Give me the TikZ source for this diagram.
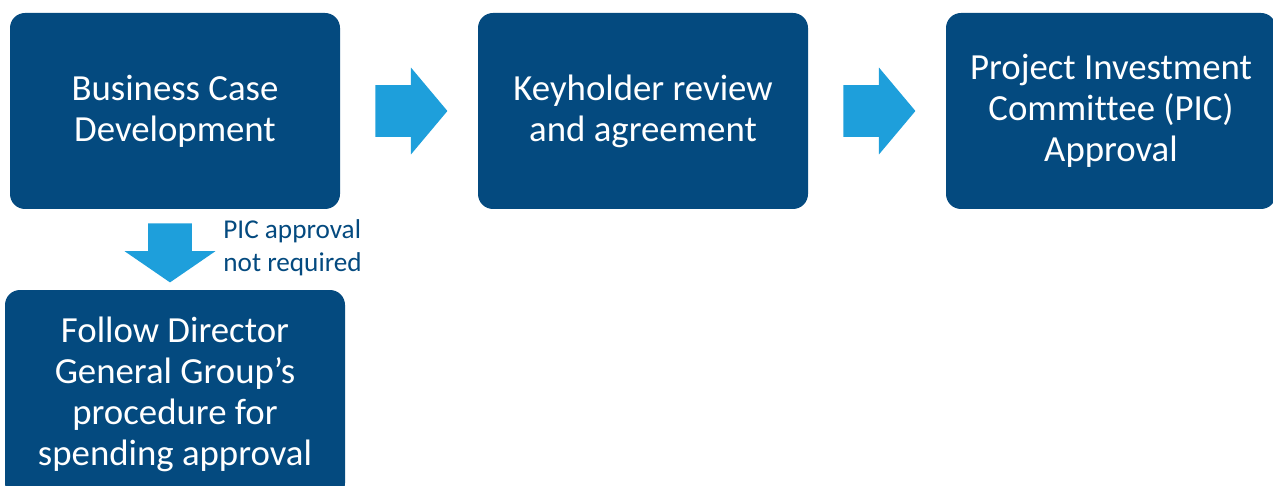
\documentclass[tikz,border=0pt]{standalone}
\usepackage{fontspec}
\setmainfont{Carlito}[Ligatures=NoCommon]
\usetikzlibrary{shapes.arrows}
\usetikzlibrary{positioning}
\definecolor{stageblue}{RGB}{4,74,127}
\definecolor{flowblue}{RGB}{30,159,219}
\tikzset{stage/.style = {fill=stageblue, rounded corners=7.5pt, text=white, align=center,
                         inner sep=0, minimum width=165pt, minimum height=98pt,
                         font=\fontsize{18.4}{20.5}\selectfont}}
\tikzset{flow/.style = {single arrow, fill=flowblue, inner sep=0,
                        single arrow head indent=0pt, anchor=tail}}
\tikzset{note/.style = {text=stageblue, align=left, inner sep=0,
                        font=\fontsize{13.6}{16.5}\selectfont}}

\begin{document}
\begin{tikzpicture}[x=0.5pt, y=-0.5pt]
    \useasboundingbox (0, 0) rectangle (1273, 486);

    \node [stage] (case) at (175, 111) {Business Case\\Development};
    \node [stage] (keys) at (643, 111) {Keyholder review\\and agreement};
    \node [stage] (pic) at (1111, 111) {Project Investment\\Committee (PIC)\\Approval};
    \node [stage, minimum width=170pt, minimum height=104pt] (dgg) at (175, 394)
        {Follow Director\\General Group’s\\procedure for\\spending approval};

    \node [flow, minimum height=36pt, single arrow head extend=8.75pt,
           single arrow tip angle=100] (toKeys) at (375, 111) {\rule{0pt}{25.5pt}};
    \node [flow, minimum height=36pt, single arrow head extend=8.75pt,
           single arrow tip angle=100] (toPic) at (843, 111) {\rule{0pt}{25.5pt}};
    \node [flow, rotate=-90, minimum height=29.5pt,
           single arrow head extend=11.75pt, single arrow tip angle=111] (toDgg) at (170, 223) {\rule{0pt}{21.5pt}};

    \node [note, anchor=west] (skip) at (223, 248) {PIC approval\\not required};
  \end{tikzpicture}
\end{document}
